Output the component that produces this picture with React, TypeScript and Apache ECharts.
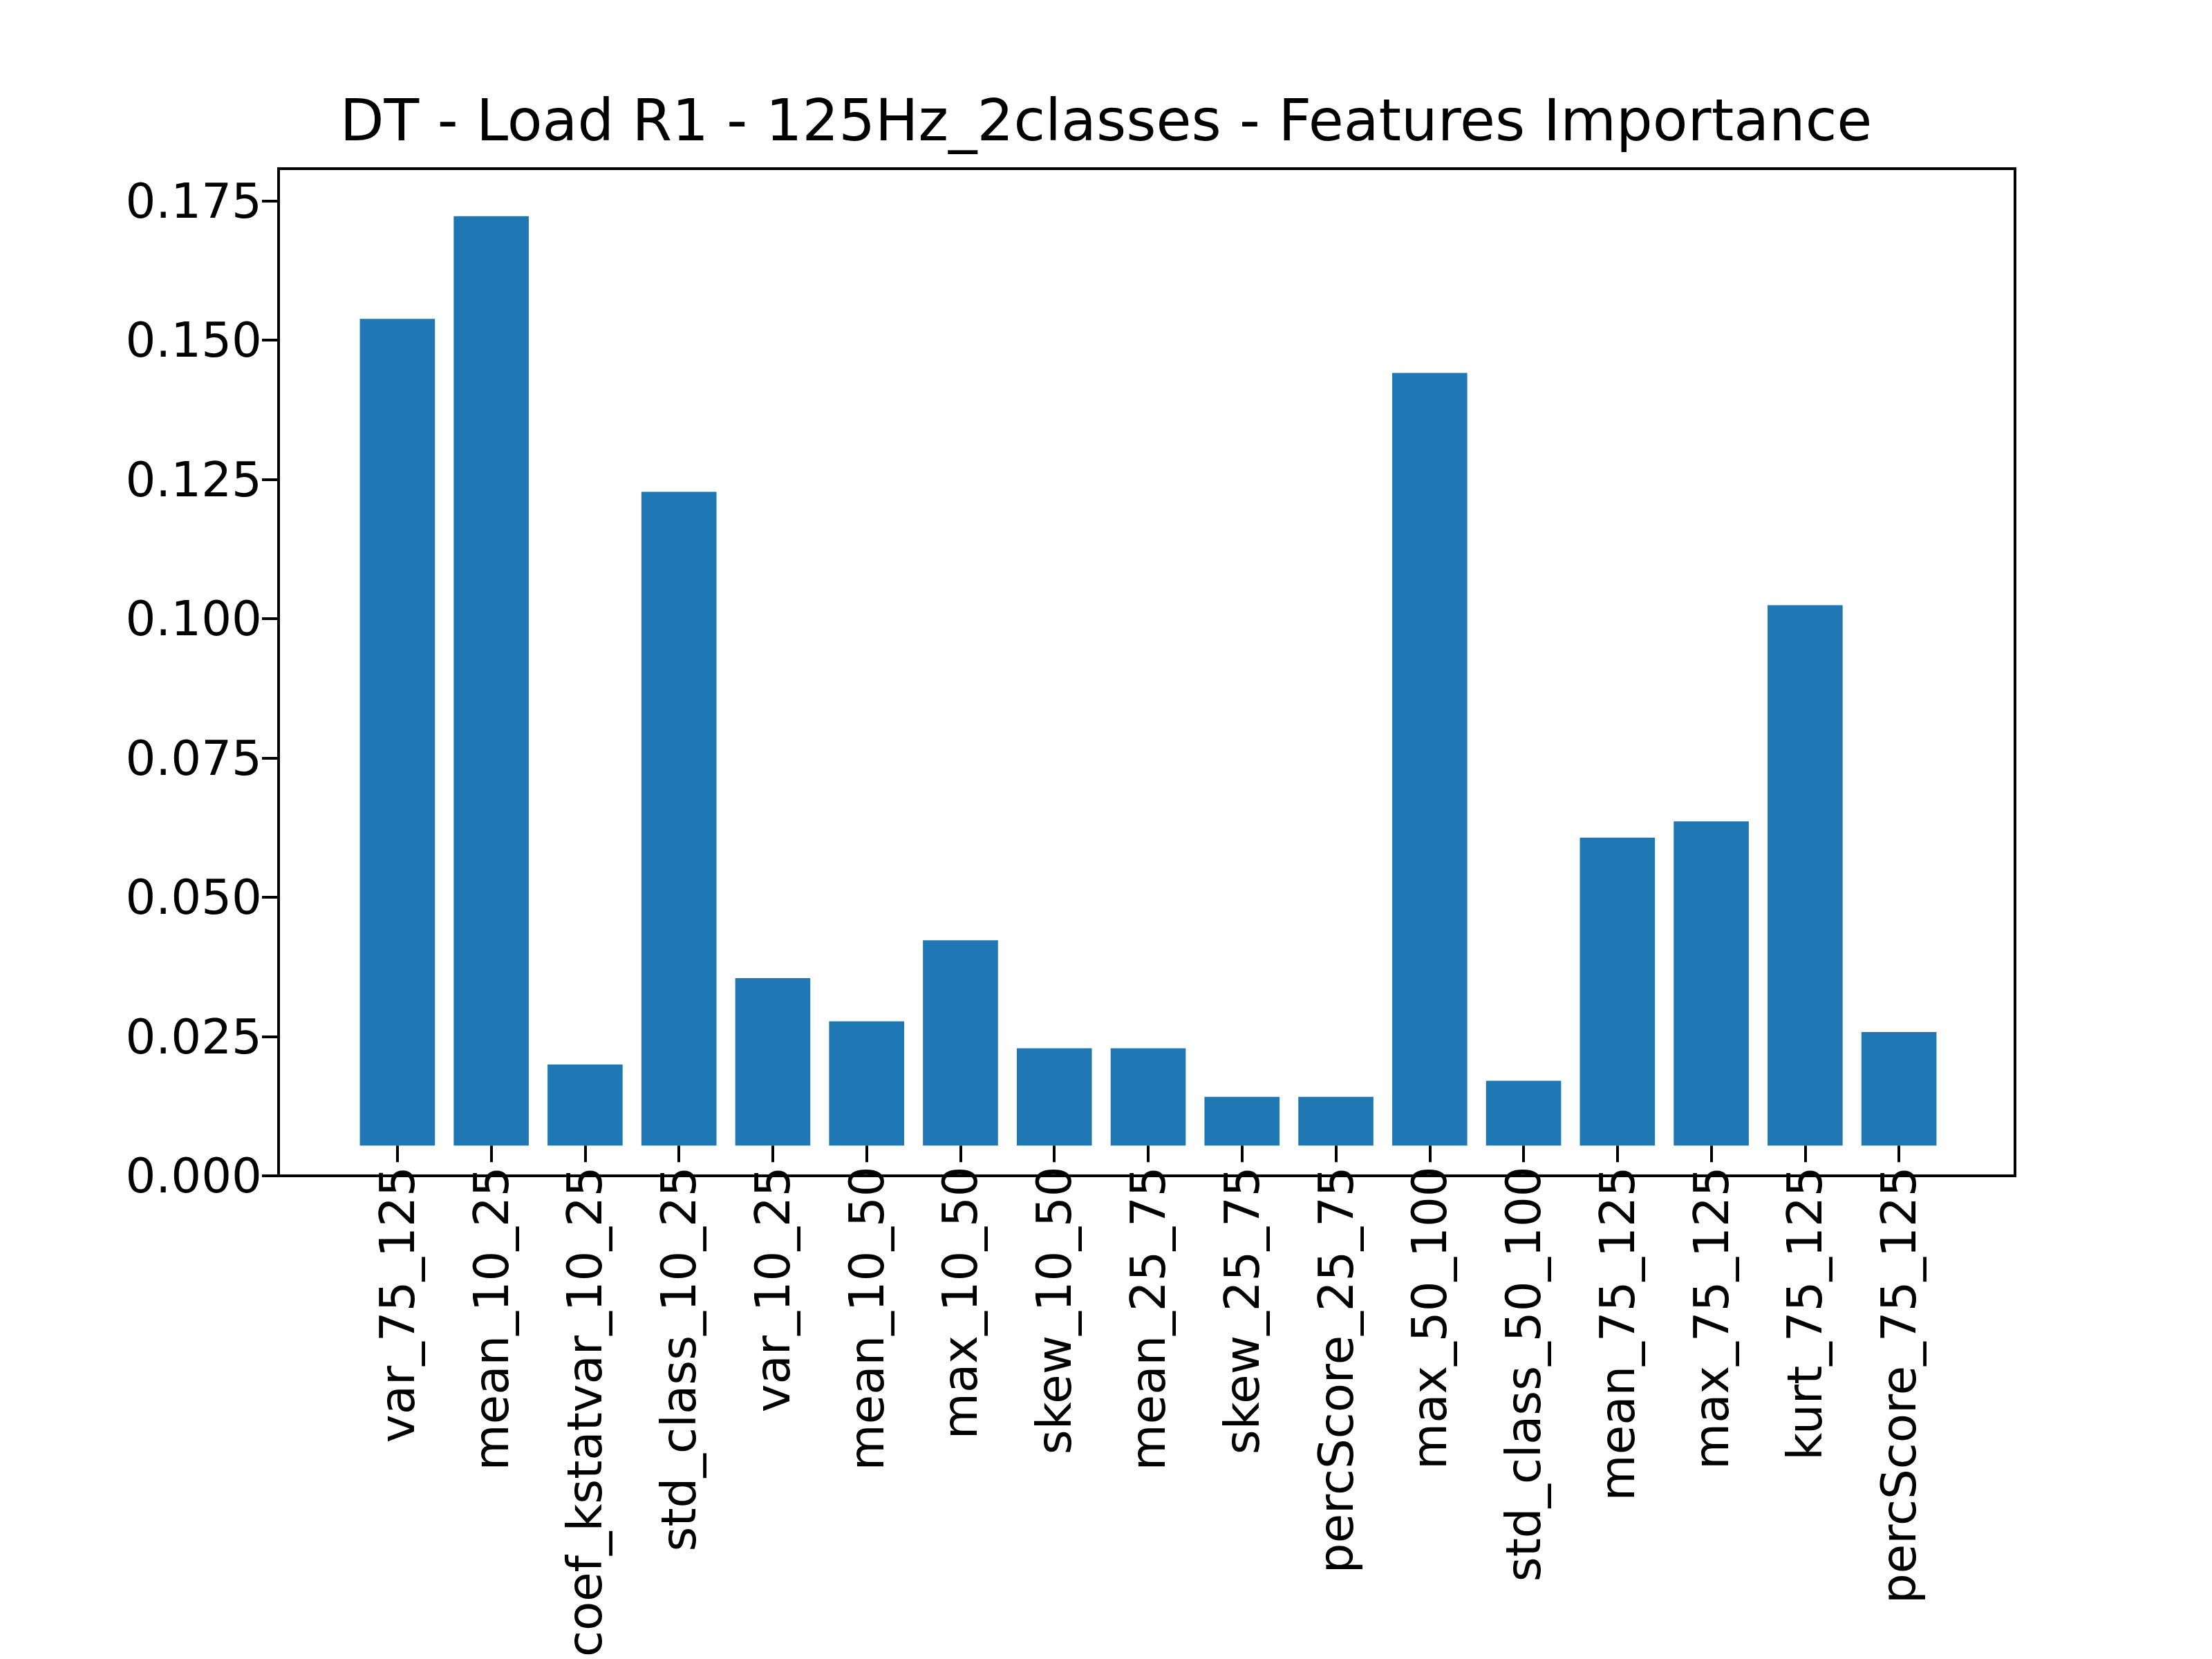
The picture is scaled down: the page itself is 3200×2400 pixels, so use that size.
import { useEffect, useRef } from "react";
import * as echarts from "echarts";

const features = [
  "var_75_125", "mean_10_25", "coef_kstatvar_10_25", "std_class_10_25", "var_10_25",
  "mean_10_50", "max_10_50", "skew_10_50", "mean_25_75", "skew_25_75",
  "percScore_25_75", "max_50_100", "std_class_50_100", "mean_75_125", "max_75_125",
  "kurt_75_125", "percScore_75_125",
];
const importance = [
  0.153, 0.172, 0.015, 0.121, 0.031, 0.023, 0.038, 0.018, 0.018, 0.009,
  0.009, 0.143, 0.012, 0.057, 0.06, 0.1, 0.021,
];
const yMax = 0.1808;

export default function App() {
  const ref = useRef<HTMLDivElement>(null);

  useEffect(() => {
    document.body.style.margin = "0";
    if (!ref.current) return;
    const chart = echarts.init(ref.current, undefined, { renderer: "svg" });
    const font = "DejaVu Sans";
    chart.setOption({
      animation: false,
      backgroundColor: "#fff",
      textStyle: { fontFamily: font },
      title: {
        text: "DT - Load R1 - 125Hz_2classes - Features Importance",
        left: "center",
        top: 128,
        textStyle: { fontSize: 83, fontWeight: "normal", color: "#000", fontFamily: font },
      },
      grid: [
        { left: 403, right: 285, top: 244, bottom: 699, show: true, borderColor: "#000", borderWidth: 4 },
        { left: 507, right: 385, top: 244, bottom: 699 },
      ],
      xAxis: [
        { gridIndex: 0, type: "value", show: false, min: 0, max: 1 },
        {
          gridIndex: 1,
          type: "category",
          data: features,
          axisLine: { show: false },
          axisTick: { show: true, alignWithLabel: true, length: 24, lineStyle: { color: "#000", width: 4 } },
          axisLabel: { rotate: 90, fontSize: 69, color: "#000", margin: 30, interval: 0, fontFamily: font },
        },
      ],
      yAxis: [
        {
          gridIndex: 0,
          type: "value",
          min: 0,
          max: yMax,
          interval: 0.025,
          splitLine: { show: false },
          axisLine: { show: false },
          axisTick: { show: true, length: 24, lineStyle: { color: "#000", width: 4 } },
          axisLabel: {
            fontSize: 69, color: "#000", margin: 24, showMaxLabel: false, fontFamily: font,
            formatter: (v: number) => v.toFixed(3),
          },
        },
        { gridIndex: 1, type: "value", min: 0, max: yMax, show: false },
      ],
      series: [
        {
          type: "bar",
          xAxisIndex: 1,
          yAxisIndex: 1,
          data: importance,
          barWidth: "80%",
          itemStyle: { color: "#1f77b4" },
        },
      ],
    });
    return () => chart.dispose();
  }, []);

  return <div ref={ref} style={{ width: 3200, height: 2400 }} />;
}
